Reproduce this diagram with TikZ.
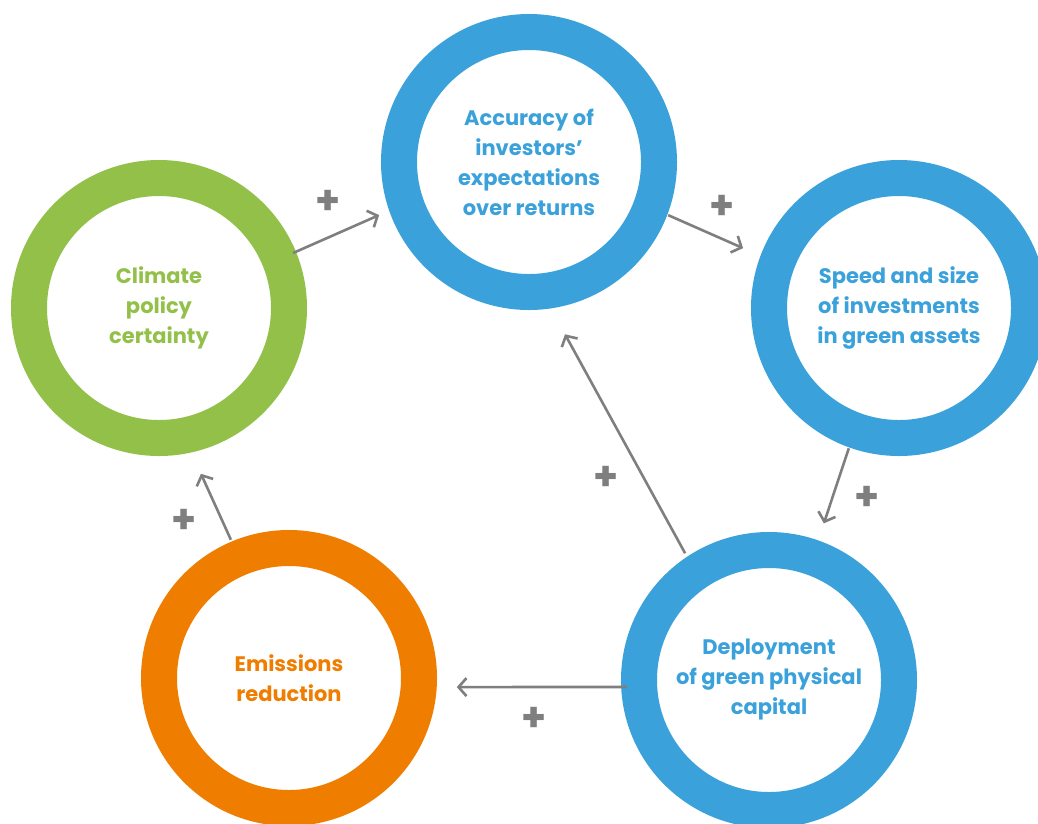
\documentclass[tikz,border=0pt]{standalone}
\usepackage{fontspec}
\setmainfont{Poppins}
\usetikzlibrary{arrows.meta,calc}
\definecolor{cblue}{HTML}{3BA1DA}
\definecolor{cgreen}{HTML}{93C049}
\definecolor{corange}{HTML}{EE7D00}
\definecolor{cgray}{HTML}{7F7F7F}
\begin{document}
\begin{tikzpicture}[x=1pt,y=1pt,
  ring/.style={circle, line width=36pt, minimum size=260pt, inner sep=0pt,
     align=center, font=\fontsize{21}{30}\selectfont\bfseries},
  link/.style={draw=cgray, line width=2.6pt, -{Straight Barb[length=8pt,width=18pt,line width=2.6pt]}},
  plus/.style={text=cgray, font=\fontsize{40}{40}\selectfont\bfseries, inner sep=0pt}]
\useasboundingbox (0,0) rectangle (1038,-823);
\node[ring, draw=cgreen, text=cgreen] (G) at (159,-308) {Climate\\policy\\certainty};
\node[ring, draw=cblue, text=cblue] (T) at (529,-162) {Accuracy of\\investors’\\expectations\\over returns};
\node[ring, draw=cblue, text=cblue] (R) at (899,-308) {Speed and size\\of investments\\in green assets};
\node[ring, draw=cblue, text=cblue] (D) at (769,-680) {Deployment\\of green physical\\capital};
\node[ring, draw=corange, text=corange] (E) at (289,-678) {Emissions\\reduction};
\draw[link] ($(G)+(22.3:145)$) -- ($(T)+(199.5:159)$);
\draw[link] ($(T)+(-20.9:149)$) -- ($(R)+(159:167)$);
\draw[link] ($(R)+(250.3:149)$) -- ($(D)+(70.7:166)$);
\draw[link] ($(D)+(123.5:152)$) -- ($(T)+(-78.2:176)$);
\draw[link] ($(D)+(182.8:142)$) -- ($(E)+(-3.1:168)$);
\draw[link] ($(E)+(112.8:150)$) -- ($(G)+(-75.8:171)$);
\node[plus] (p1) at (328,-202) {+};
\node[plus] (p2) at (722,-207) {+};
\node[plus] (p3) at (867,-498) {+};
\node[plus] (p4) at (606,-478) {+};
\node[plus] (p5) at (534,-719) {+};
\node[plus] (p6) at (184,-521) {+};
\end{tikzpicture}
\end{document}
